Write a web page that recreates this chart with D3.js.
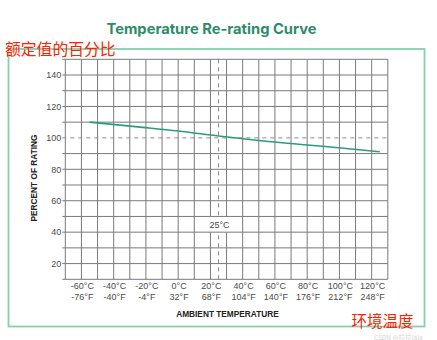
<!DOCTYPE html>
<html>
<head>
<meta charset="utf-8">
<script src="https://cdn.jsdelivr.net/npm/d3@7"></script>
<style>
  html, body { margin: 0; padding: 0; background: #fff; }
  svg { display: block; }
</style>
</head>
<body>
<svg id="chart" width="437" height="340"></svg>
<script>
// ---- data ----
const title = "Temperature Re-rating Curve";
const yAxisTitle = "PERCENT OF RATING";
const xAxisTitle = "AMBIENT TEMPERATURE";
const cnYLabel = "额定值的百分比";
const cnXLabel = "环境温度";
const watermark = "CSDN @拉拉lala";
const tempC = [-55, -25, 0, 25, 50, 88, 125];
const rating = [110, 107, 104.4, 101.2, 98.3, 94.8, 91.2];
const xTicksC = [-60, -40, -20, 0, 20, 40, 60, 80, 100, 120];
const xTicksCLabels = ["-60°C", "-40°C", "-20°C", "0°C", "20°C", "40°C", "60°C", "80°C", "100°C", "120°C"];
const xTicksFLabels = ["-76°F", "-40°F", "-4°F", "32°F", "68°F", "104°F", "140°F", "176°F", "212°F", "248°F"];
const yTicks = [20, 40, 60, 80, 100, 120, 140];
const refTemp = 25;
const refRating = 100;

// ---- layout ----
const svg = d3.select("#chart");
const pLeft = 65.3, pRight = 387.8, pTop = 59.3, pBottom = 279.3;
const x = d3.scaleLinear().domain([-70, 130]).range([pLeft, pRight]);
const y = d3.scaleLinear().domain([10, 150]).range([pBottom, pTop]);
const gridColor = "#7a7a7a";
const textColor = "#4a4a4a";
const font = "'Liberation Sans', Arial, sans-serif";

// outer frame
svg.append("rect").attr("x", 8.5).attr("y", 49).attr("width", 416).attr("height", 277.5)
  .attr("fill", "none").attr("stroke", "#86cfae").attr("stroke-width", 1.8);

// title
svg.append("text").attr("x", 211.5).attr("y", 33.5).attr("text-anchor", "middle")
  .attr("font-family", "Inter, 'Liberation Sans', sans-serif").attr("font-weight", "bold")
  .attr("font-size", 14.5).attr("fill", "#2e8b68")
  .attr("textLength", 210).attr("lengthAdjust", "spacingAndGlyphs")
  .text(title);

// grid
const vVals = d3.range(-70, 131, 10);
const hVals = d3.range(10, 151, 10).filter(v => v !== refRating);
const grid = svg.append("g");
grid.selectAll("line.v").data(vVals).join("line")
  .attr("x1", d => x(d)).attr("x2", d => x(d))
  .attr("y1", y(150)).attr("y2", y(10))
  .attr("stroke", gridColor).attr("stroke-width", 1);

// dashed reference lines
svg.append("line").attr("x1", x(-70) - 3).attr("x2", x(130))
  .attr("y1", y(refRating)).attr("y2", y(refRating))
  .attr("stroke", "#8a8a8a").attr("stroke-width", 1).attr("stroke-dasharray", "4,4");
svg.append("line").attr("x1", x(refTemp)).attr("x2", x(refTemp))
  .attr("y1", y(150)).attr("y2", y(10))
  .attr("stroke", "#8a8a8a").attr("stroke-width", 1).attr("stroke-dasharray", "4,4");

// label cell blanked (label box), then horizontal grid lines on top
svg.append("rect").attr("x", x(20) - 1).attr("y", y(50))
  .attr("width", x(30) - x(20) + 2).attr("height", y(40) - y(50)).attr("fill", "#fff");
svg.append("g").selectAll("line").data(hVals).join("line")
  .attr("x1", x(-70) - 3).attr("x2", x(130))
  .attr("y1", d => y(d)).attr("y2", d => y(d))
  .attr("stroke", gridColor).attr("stroke-width", 1);

// 25°C label
svg.append("text").attr("x", x(refTemp) + 1).attr("y", y(45) + 3.5)
  .attr("text-anchor", "middle").attr("font-family", font).attr("font-size", 9)
  .attr("fill", textColor).text(refTemp + "°C");

// y tick labels
svg.selectAll("text.yt").data(yTicks).join("text")
  .attr("x", pLeft - 4).attr("y", d => y(d) + 3.2)
  .attr("text-anchor", "end").attr("font-family", font).attr("font-size", 9)
  .attr("fill", textColor).text(d => d);

// x tick labels
svg.selectAll("text.xc").data(xTicksC).join("text")
  .attr("x", d => x(d) + 1).attr("y", 289)
  .attr("text-anchor", "middle").attr("font-family", font).attr("font-size", 9)
  .attr("fill", textColor).text((d, i) => xTicksCLabels[i]);
svg.selectAll("text.xf").data(xTicksC).join("text")
  .attr("x", d => x(d) + 1).attr("y", 300)
  .attr("text-anchor", "middle").attr("font-family", font).attr("font-size", 9)
  .attr("fill", textColor).text((d, i) => xTicksFLabels[i]);

// axis titles
svg.append("text").attr("x", 227.5).attr("y", 317)
  .attr("text-anchor", "middle").attr("font-family", font).attr("font-weight", "bold")
  .attr("font-size", 8.3).attr("fill", "#222").text(xAxisTitle);
svg.append("text").attr("transform", "translate(37,178) rotate(-90)")
  .attr("text-anchor", "middle").attr("font-family", font).attr("font-weight", "bold")
  .attr("font-size", 8.3).attr("fill", "#222").text(yAxisTitle);

// curve
const line = d3.line().x((d, i) => x(tempC[i])).y(d => y(d)).curve(d3.curveMonotoneX);
svg.append("path").attr("d", line(rating))
  .attr("fill", "none").attr("stroke", "#2a9d7c").attr("stroke-width", 1.6);

// watermark (faint)
svg.append("text").attr("x", 374).attr("y", 339.5)
  .attr("font-family", "'Noto Sans CJK SC', sans-serif").attr("font-size", 6.5)
  .attr("fill", "#d4d4d4").text(watermark);

// Chinese annotations
svg.append("text").attr("x", 5).attr("y", 54.5)
  .attr("font-family", "'Noto Sans CJK SC', sans-serif").attr("font-size", 15.8)
  .attr("fill", "#ff2200").text(cnYLabel);
svg.append("text").attr("x", 351.5).attr("y", 327)
  .attr("font-family", "'Noto Sans CJK SC', sans-serif").attr("font-size", 15.5)
  .attr("fill", "#ff2200").text(cnXLabel);
</script>
</body>
</html>
